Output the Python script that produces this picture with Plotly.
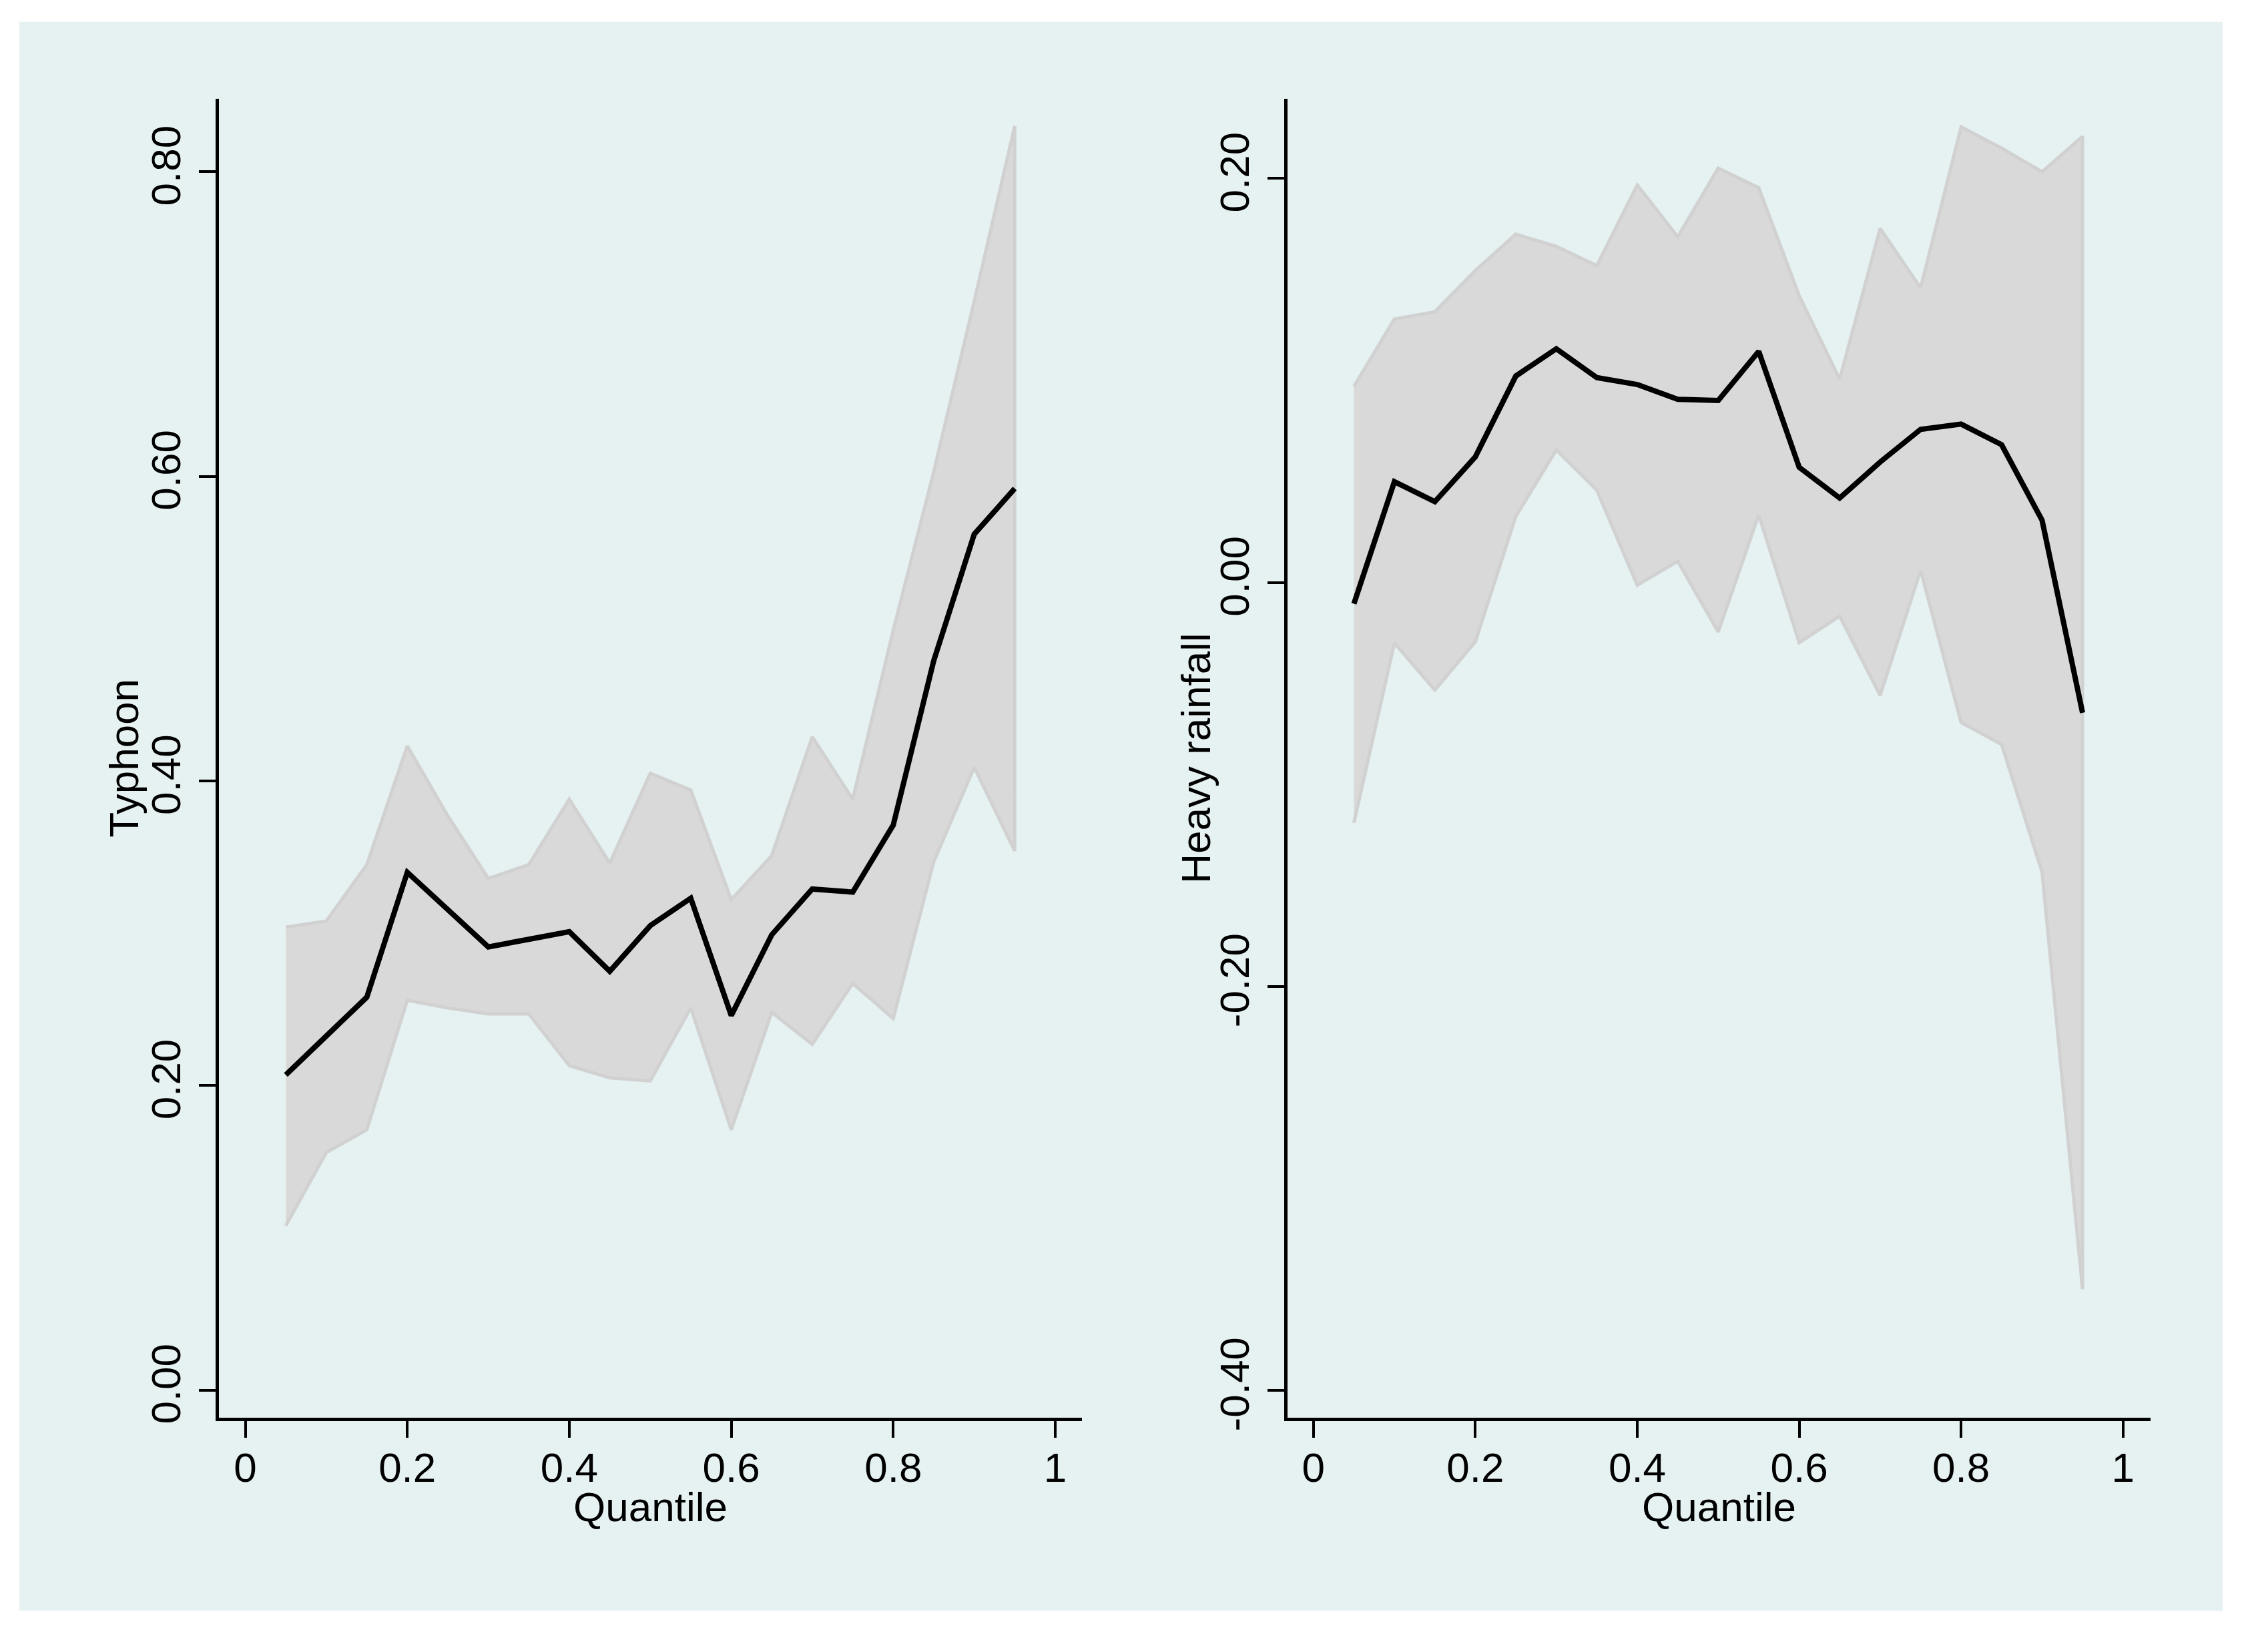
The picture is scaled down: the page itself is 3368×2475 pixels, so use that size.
import plotly.graph_objects as go

# Page is 3368x2475; the body has an 8 px margin, so the figure is 16 px smaller
PAGE_W, PAGE_H = 3368, 2475
OFF = 8
W, H = PAGE_W - 2 * OFF, PAGE_H - 2 * OFF

quantiles = [0.05, 0.10, 0.15, 0.20, 0.25, 0.30, 0.35, 0.40, 0.45, 0.50,
             0.55, 0.60, 0.65, 0.70, 0.75, 0.80, 0.85, 0.90, 0.95]

typhoon_coef = [0.207, 0.232, 0.258, 0.340, 0.315, 0.291, 0.296, 0.301, 0.275, 0.305,
                0.323, 0.246, 0.299, 0.329, 0.327, 0.371, 0.479, 0.562, 0.592]
typhoon_upper = [0.304, 0.308, 0.345, 0.423, 0.377, 0.336, 0.345, 0.388, 0.346, 0.405,
                 0.394, 0.322, 0.351, 0.429, 0.388, 0.499, 0.603, 0.715, 0.830]
typhoon_lower = [0.108, 0.156, 0.171, 0.256, 0.251, 0.247, 0.247, 0.213, 0.205, 0.203,
                 0.251, 0.171, 0.248, 0.227, 0.267, 0.244, 0.347, 0.409, 0.354]

rain_coef = [-0.0105, 0.0499, 0.0400, 0.0622, 0.1022, 0.1157, 0.1014, 0.0980, 0.0907, 0.0901,
             0.1144, 0.0570, 0.0418, 0.0596, 0.0758, 0.0784, 0.0682, 0.0308, -0.0645]
rain_upper = [0.0970, 0.1304, 0.1340, 0.1544, 0.1724, 0.1664, 0.1568, 0.1968, 0.1711, 0.2051,
              0.1954, 0.1419, 0.1006, 0.1753, 0.1458, 0.2255, 0.2150, 0.2033, 0.2208]
rain_lower = [-0.1190, -0.0300, -0.0533, -0.0293, 0.0327, 0.0656, 0.0457, -0.0013, 0.0105, -0.0245,
              0.0334, -0.0298, -0.0167, -0.0559, 0.0060, -0.0693, -0.0802, -0.1434, -0.3498]

x_ticks = [0, 0.2, 0.4, 0.6, 0.8, 1]
x_ticktext = ["0", "0.2", "0.4", "0.6", "0.8", "1"]
typhoon_yticks = [0.0, 0.2, 0.4, 0.6, 0.8]
typhoon_yticktext = ["0.00", "0.20", "0.40", "0.60", "0.80"]
rain_yticks = [-0.4, -0.2, 0.0, 0.2]
rain_yticktext = ["-0.40", "-0.20", "0.00", "0.20"]

BG = "rgb(230,241,242)"
BAND = "rgb(217,217,217)"
BAND_LINE = "rgb(209,209,209)"
FONT = "Liberation Sans, Arial, sans-serif"
FS = 62


def px(x):
    return (x - OFF) / W


def py(y):
    return 1 - (y - OFF) / H


fig = go.Figure()


def add_panel(coef, upper, lower, xa, ya):
    fig.add_trace(go.Scatter(
        x=quantiles + quantiles[::-1], y=upper + lower[::-1],
        fill="toself", fillcolor=BAND, mode="lines",
        line=dict(color=BAND_LINE, width=5),
        xaxis=xa, yaxis=ya, showlegend=False, hoverinfo="skip"))
    fig.add_trace(go.Scatter(
        x=quantiles, y=coef, mode="lines",
        line=dict(color="black", width=8),
        xaxis=xa, yaxis=ya, showlegend=False))


add_panel(typhoon_coef, typhoon_upper, typhoon_lower, "x", "y")
add_panel(rain_coef, rain_upper, rain_lower, "x2", "y2")

ydom = [py(2141), py(149)]

common_x = dict(
    tickmode="array", tickvals=x_ticks, ticktext=x_ticktext,
    showgrid=False, zeroline=False, showline=True, linecolor="black", linewidth=5,
    ticks="outside", ticklen=25, tickwidth=4, tickcolor="black",
    ticklabelstandoff=-8,
    tickfont=dict(family=FONT, size=FS, color="black"),
)
common_y = dict(
    tickmode="array",
    showgrid=True, gridcolor=BG, gridwidth=5, zeroline=False,
    showline=True, linecolor="black", linewidth=5,
    ticks="outside", ticklen=25, tickwidth=4, tickcolor="black",
    tickangle=-90, ticklabelstandoff=3,
    tickfont=dict(family=FONT, size=FS, color="black"),
)

fig.update_layout(
    width=W, height=H,
    margin=dict(l=0, r=0, t=0, b=0),
    paper_bgcolor="white", plot_bgcolor="white",
    font=dict(family=FONT, size=FS, color="black"),
    xaxis=dict(domain=[px(327.5), px(1621)], range=[-0.033, 1.033], anchor="y", **common_x),
    yaxis=dict(domain=ydom, range=[-0.018, 0.848], anchor="x",
               tickvals=typhoon_yticks, ticktext=typhoon_yticktext, **common_y),
    xaxis2=dict(domain=[px(1929), px(3222)], range=[-0.032, 1.034], anchor="y2", **common_x),
    yaxis2=dict(domain=ydom, range=[-0.4134, 0.2395], anchor="x2",
                tickvals=rain_yticks, ticktext=rain_yticktext, **common_y),
    shapes=[dict(type="rect", xref="paper", yref="paper",
                 x0=px(29), x1=px(3330), y0=py(2433), y1=py(33),
                 fillcolor=BG, line=dict(width=0), layer="below")],
    annotations=[
        dict(text="Typhoon", xref="paper", yref="paper", x=px(186), y=py(1145),
             textangle=-90, showarrow=False, xanchor="center", yanchor="middle",
             font=dict(family=FONT, size=FS, color="black")),
        dict(text="Heavy rainfall", xref="paper", yref="paper", x=px(1792), y=py(1145),
             textangle=-90, showarrow=False, xanchor="center", yanchor="middle",
             font=dict(family=FONT, size=FS, color="black")),
        dict(text="Quantile", xref="paper", yref="paper", x=px(974), y=py(2276),
             showarrow=False, xanchor="center", yanchor="middle",
             font=dict(family=FONT, size=FS, color="black")),
        dict(text="Quantile", xref="paper", yref="paper", x=px(2575), y=py(2276),
             showarrow=False, xanchor="center", yanchor="middle",
             font=dict(family=FONT, size=FS, color="black")),
    ],
)

fig.write_html("out.html")
